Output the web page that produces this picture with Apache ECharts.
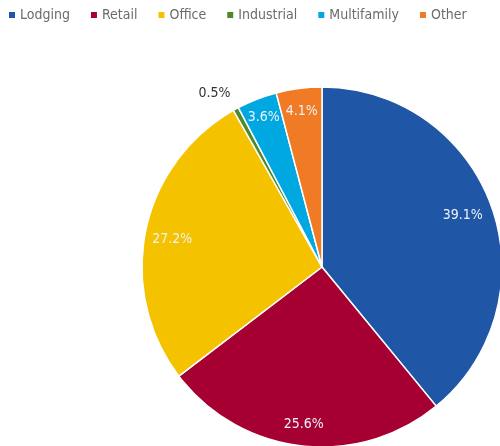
<!DOCTYPE html>
<html>
<head>
<meta charset="utf-8">
<script src="https://cdn.jsdelivr.net/npm/echarts@6/dist/echarts.min.js"></script>
<style>
  html, body { margin: 0; padding: 0; background: #fff; }
  #chart { width: 500px; height: 446px; }
</style>
</head>
<body>
<div id="chart"></div>
<script>
// Property-type breakdown (percent of total)
const categories = ['Lodging', 'Retail', 'Office', 'Industrial', 'Multifamily', 'Other'];
const shares = [39.1, 25.6, 27.2, 0.5, 3.6, 4.1];
const colors = ['#1f56a6', '#a60033', '#f5c200', '#4d8a2c', '#00a8e1', '#f07b24'];

const FONT = '"DejaVu Sans Condensed", "Roboto", sans-serif';

// Fine adjustment of each value label around its default spot
const labelNudge = [[-8, 2], [0, 0], [5, 4], [-32, -35], [-1, -2], [0, 1]];

const chart = echarts.init(document.getElementById('chart'), null, { renderer: 'canvas' });

const pieData = categories.map((name, i) => ({
  name, value: shares[i], itemStyle: { color: colors[i] }
}));

const labelData = categories.map((name, i) => ({
  name, value: shares[i],
  label: {
    offset: labelNudge[i],
    color: name === 'Industrial' ? '#333333' : '#eef2fa'
  }
}));

chart.setOption({
  animation: false,
  legend: {
    data: categories,
    left: 2,
    top: 3,
    itemWidth: 8,
    itemHeight: 8,
    itemGap: 19,
    icon: 'rect',
    textStyle: { fontFamily: FONT, fontSize: 14, color: '#6b6b6b', padding: [0, 0, 0, -1] }
  },
  series: [
    {
      type: 'pie',
      center: [322, 267],
      radius: [0, 180],
      startAngle: 90,
      clockwise: true,
      silent: true,
      label: { show: false },
      labelLine: { show: false },
      itemStyle: { borderColor: '#ffffff', borderWidth: 1.5 },
      data: pieData
    },
    {
      type: 'pie',
      center: [322, 267],
      radius: [0, 310],
      startAngle: 90,
      clockwise: true,
      silent: true,
      itemStyle: { color: 'rgba(0,0,0,0)' },
      labelLine: { show: false },
      label: {
        show: true,
        position: 'inside',
        fontFamily: FONT,
        fontSize: 14,
        formatter: p => p.value.toFixed(1) + '%'
      },
      data: labelData
    }
  ]
});
</script>
</body>
</html>
